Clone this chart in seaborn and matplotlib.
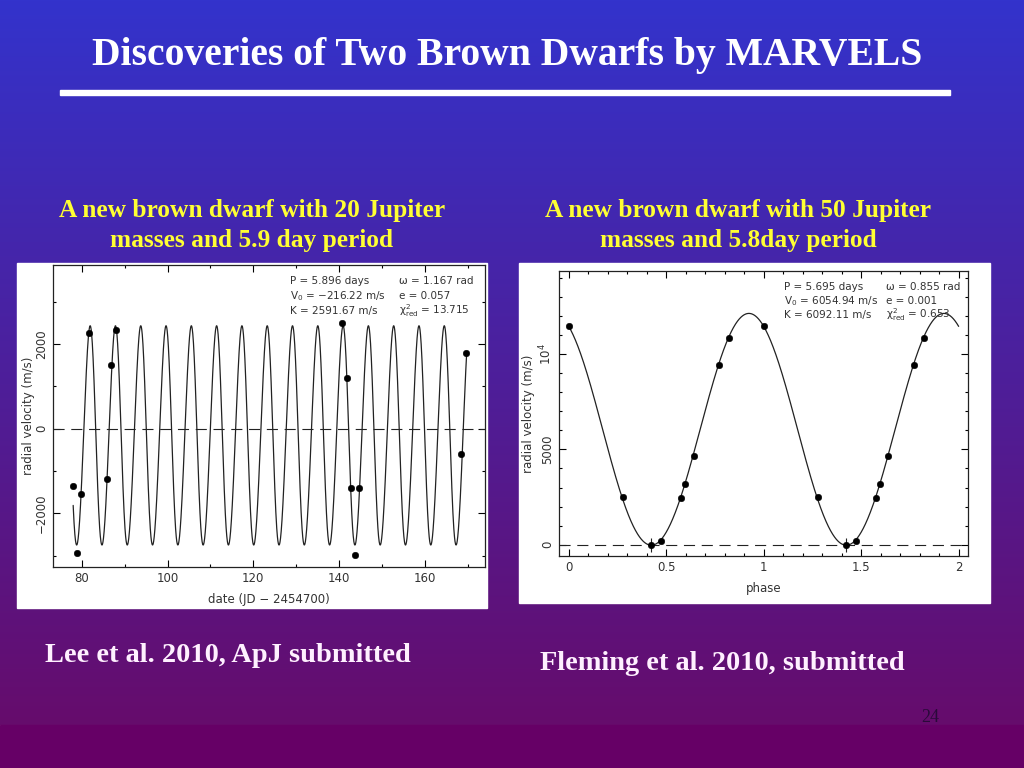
import numpy as np
import pandas as pd
import matplotlib
matplotlib.use("Agg")
import matplotlib.pyplot as plt
import seaborn as sns
from matplotlib.patches import Rectangle
from matplotlib.ticker import MultipleLocator, FuncFormatter

dates_lee = [77.9, 78.8, 79.8, 81.6, 85.8, 86.9, 87.9, 140.7, 141.8, 142.7, 143.7, 144.6, 168.5, 169.6]
rv_lee = [-1365, -2943, -1546, 2264, -1183, 1499, 2328, 2501, 1207, -1404, -2998, -1404, -592, 1791]
params_lee = {"P": 5.896, "V0": -216.22, "K": 2591.67, "w": 1.167, "e": 0.057, "tp": 82.96}

# Donnees lues sur le graphique de droite (Fleming et al.), phase dans [0, 1)
phase_fl = [0.0, 0.278, 0.422, 0.473, 0.574, 0.598, 0.640, 0.770, 0.822]
rv_fl = [11505, 2487, -17, 175, 2469, 3169, 4675, 9438, 10874]
params_fl = {"P": 1.0, "V0": 6054.94, "K": 6092.11, "w": 0.855, "e": 0.001, "tp": 0.060}

W, H = 1024, 768


def rv_model(t, P, V0, K, w, e, tp):
    # orbite keplerienne
    M = 2 * np.pi * (t - tp) / P
    E = M.copy()
    for _ in range(30):
        E = M + e * np.sin(E)
    nu = 2 * np.arctan2(np.sqrt(1 + e) * np.sin(E / 2), np.sqrt(1 - e) * np.cos(E / 2))
    return V0 + K * (np.cos(nu + w) + e * np.cos(w))


def box(x0, y0, x1, y1):
    # pixels (origine en haut) -> fraction de figure
    return [x0 / W, 1 - y1 / H, (x1 - x0) / W, (y1 - y0) / H]


def ftext(x, y, s, **kw):
    # texte de figure place en pixels
    return fig.text(x / W, 1 - y / H, s, **kw)


def pgplot_style(ax):
    ax.tick_params(which="both", direction="in", top=True, right=True, colors="black",
                   labelsize=8.5, labelcolor="#333333")
    ax.tick_params(which="major", length=5, width=0.8)
    ax.tick_params(which="minor", length=2.5, width=0.8)
    for s in ax.spines.values():
        s.set_linewidth(0.9)
        s.set_color("#222222")
    plt.setp(ax.get_yticklabels(), rotation=90, va="center")


sns.set_style("ticks")
plt.rcParams["font.family"] = ["DejaVu Sans"]

fig = plt.figure(figsize=(W / 100, H / 100), dpi=100)

# fond degrade
bg = fig.add_axes([0, 0, 1, 1])
bg.set_xlim(0, W)
bg.set_ylim(H, 0)
bg.axis("off")
top = np.array([51, 51, 204]) / 255
bot = np.array([102, 12, 108]) / 255
frac = np.linspace(0, 1, 725)[:, None]
grad = top + (bot - top) * frac
bg.imshow(grad[:, None, :].repeat(2, axis=1), extent=[0, W, 725, 0], aspect="auto")
bg.add_patch(Rectangle((0, 725), W, H - 725, color="#660066"))

serif = dict(family="Liberation Serif", fontweight="bold", va="center")
bg.text(507, 55, "Discoveries of Two Brown Dwarfs by MARVELS", color="white", fontsize=28.5,
        ha="center", **serif)
bg.add_patch(Rectangle((60, 90), 890, 5, color="white"))

yellow = "#FFFF33"
bg.text(252, 210, "A new brown dwarf with 20 Jupiter", color=yellow, fontsize=18.3, ha="center", **serif)
bg.text(252, 240, "masses and 5.9 day period", color=yellow, fontsize=18.3, ha="center", **serif)
bg.text(738, 210, "A new brown dwarf with 50 Jupiter", color=yellow, fontsize=18.3, ha="center", **serif)
bg.text(738, 240, "masses and 5.8day period", color=yellow, fontsize=18.3, ha="center", **serif)

bg.text(45, 656, "Lee et al. 2010, ApJ submitted", color="#FFF0FF", fontsize=20.4, ha="left", **serif)
bg.text(540, 663, "Fleming et al. 2010, submitted", color="#FFF0FF", fontsize=20.4, ha="left", **serif)
bg.text(930, 718, "24", color="#2A0A3A", fontsize=13, family="Liberation Serif", ha="center", va="center")

# cadres blancs des figures
bg.add_patch(Rectangle((17, 263), 470, 345, color="white"))
bg.add_patch(Rectangle((519, 263), 471, 340, color="white"))

# ---- graphique gauche
ax1 = fig.add_axes(box(53, 265, 485, 567))
t = np.linspace(78.0, 169.7, 3000)
df_curve = pd.DataFrame({"t": t, "rv": rv_model(t, **params_lee)})
sns.lineplot(data=df_curve, x="t", y="rv", ax=ax1, color="#222222", lw=0.9)
df_pts = pd.DataFrame({"t": dates_lee, "rv": rv_lee})
sns.scatterplot(data=df_pts, x="t", y="rv", ax=ax1, color="black", s=22, edgecolor="black", zorder=3)
ax1.axhline(0, color="#222222", lw=0.8, ls=(0, (10, 6)))
ax1.set_xlim(73.3, 174)
ax1.set_ylim(-3270, 3870)
ax1.xaxis.set_major_locator(MultipleLocator(20))
ax1.xaxis.set_minor_locator(MultipleLocator(10))
ax1.yaxis.set_major_locator(MultipleLocator(2000))
ax1.yaxis.set_minor_locator(MultipleLocator(1000))
ax1.yaxis.set_major_formatter(FuncFormatter(lambda v, p: f"{v:.0f}".replace("-", "\u2212")))
ax1.set_xlabel("date (JD \u2212 2454700)", fontsize=8.5, color="#333333", labelpad=6)
ax1.set_ylabel("radial velocity (m/s)", fontsize=8.5, color="#333333", labelpad=0)
pgplot_style(ax1)

kw = dict(fontsize=7.5, color="#333333", va="center", ha="left", zorder=5)
ftext(290, 281, "P = 5.896 days", **kw)
ftext(290, 296, "V$_0$ = \u2212216.22 m/s", **kw)
ftext(290, 311, "K = 2591.67 m/s", **kw)
ftext(399, 281, "\u03c9 = 1.167 rad", **kw)
ftext(399, 296, "e = 0.057", **kw)
ftext(399, 311, "\u03c7$^2_{\\rm red}$ = 13.715", **kw)

# ---- graphique droite
ax2 = fig.add_axes(box(559, 271, 968, 556))
ph = np.linspace(0, 2, 2000)
df_curve2 = pd.DataFrame({"phase": ph, "rv": rv_model(ph, **params_fl)})
sns.lineplot(data=df_curve2, x="phase", y="rv", ax=ax2, color="#222222", lw=0.9)
df_pts2 = pd.DataFrame({"phase": np.concatenate([phase_fl, np.array(phase_fl) + 1]),
                        "rv": rv_fl + rv_fl})
sns.scatterplot(data=df_pts2, x="phase", y="rv", ax=ax2, color="black", s=22, edgecolor="black", zorder=3)
for p in [0.422, 1.422]:
    ax2.errorbar(p, -17, yerr=350, color="#222222", lw=0.8)
ax2.axhline(0, color="#222222", lw=0.8, ls=(0, (10, 6)))
ax2.set_xlim(-0.05, 2.048)
ax2.set_ylim(-600, 14380)
ax2.xaxis.set_major_locator(MultipleLocator(0.5))
ax2.xaxis.set_minor_locator(MultipleLocator(0.1))
ax2.yaxis.set_major_locator(MultipleLocator(5000))
ax2.yaxis.set_minor_locator(MultipleLocator(1000))
ax2.xaxis.set_major_formatter(FuncFormatter(lambda v, p: f"{v:g}"))
ax2.yaxis.set_major_formatter(FuncFormatter(lambda v, p: "10$^4$" if v == 10000 else f"{v:.0f}"))
ax2.set_xlabel("phase", fontsize=8.5, color="#333333", labelpad=6)
ax2.set_ylabel("radial velocity (m/s)", fontsize=8.5, color="#333333", labelpad=2)
pgplot_style(ax2)

ftext(784, 287, "P = 5.695 days", **kw)
ftext(784, 301, "V$_0$ = 6054.94 m/s", **kw)
ftext(784, 315, "K = 6092.11 m/s", **kw)
ftext(886, 287, "\u03c9 = 0.855 rad", **kw)
ftext(886, 301, "e = 0.001", **kw)
ftext(886, 315, "\u03c7$^2_{\\rm red}$ = 0.653", **kw)

fig.savefig("out.png", dpi=100)
